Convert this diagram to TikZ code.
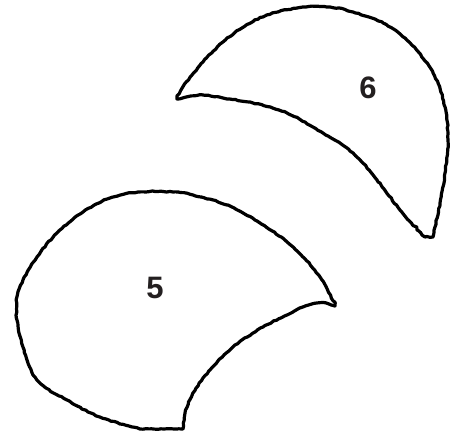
\documentclass[tikz,border=0pt]{standalone}
\usepackage{fontspec}
\setsansfont{Liberation Sans}
\usetikzlibrary{decorations.pathmorphing}
\definecolor{outline}{RGB}{0,0,0}
\definecolor{labeltext}{RGB}{35,31,32}

\begin{document}
\begin{tikzpicture}[x=1pt, y=-1pt,
    piece/.style={draw=outline, line width=3.2pt, line join=round, fill=white,
        decorate, decoration={random steps, segment length=3pt, amplitude=0.5pt}},
    piecelabel/.style={font=\sffamily\bfseries\fontsize{31}{37}\selectfont, text=labeltext, inner sep=0pt}]
    \pgfmathsetseed{7}
    \useasboundingbox (0,0) rectangle (454,434);

    % Piece 6 (upper right)
    \draw[piece] plot[smooth, tension=0.6] coordinates {(177,99) (183,87) (203,62) (223,42) (242,28)
        (267,15) (303,7) (330,7) (353,12) (383,23) (410,43) (433,73) (445,107) (448,140)
        (445,173) (440,203) (435,227) (433,237)}
        -- (425,237)
        -- plot[smooth, tension=0.6] coordinates {(417,230) (400,210) (377,180) (353,153)
        (323,133) (287,113) (253,103) (223,98) (203,95) (191,96)}
        -- cycle;
    \node[piecelabel] (label6) at (368,88) {6};

    % Piece 5 (lower left)
    \draw[piece] plot[smooth, tension=0.6] coordinates {(335,306) (320,277) (293,247) (260,223)
        (227,205) (193,195) (173,192) (138,192) (110,198) (83,212) (57,233) (37,257) (23,280)
        (17,297) (17,320) (23,347) (37,380) (67,400) (100,417) (140,429)}
        -- (183,429)
        -- plot[smooth, tension=0.6] coordinates {(185,413) (193,393) (210,370) (233,347)
        (263,327) (287,315) (303,307) (317,303) (326,303)}
        -- cycle;
    \node[piecelabel] (label5) at (155,288) {5};
\end{tikzpicture}
\end{document}
